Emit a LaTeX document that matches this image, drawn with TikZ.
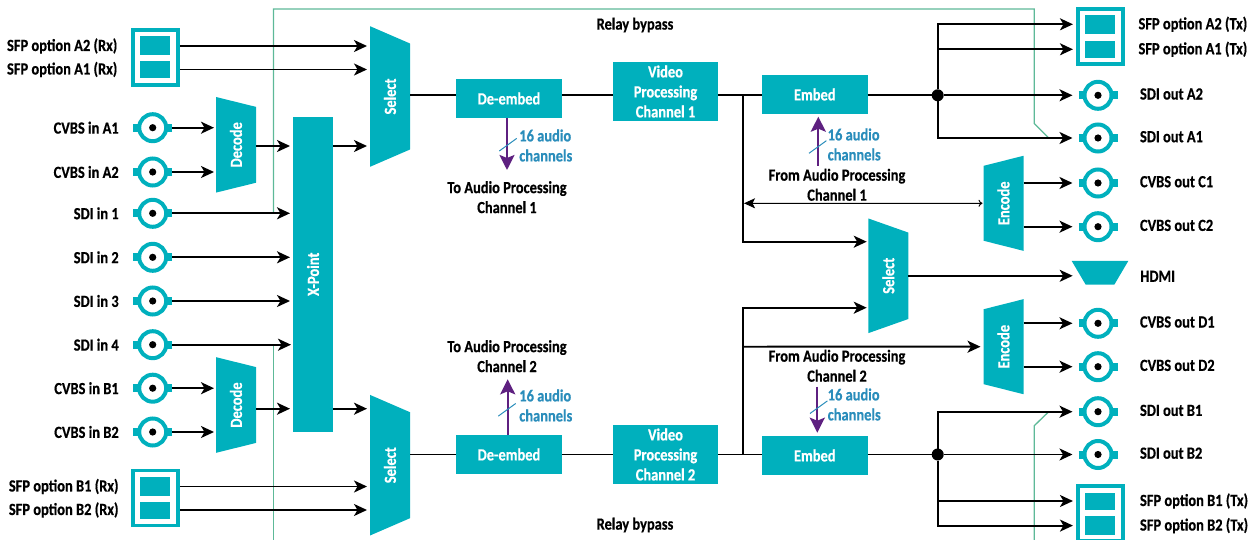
\documentclass[tikz,border=0pt]{standalone}
\usepackage{fontspec}
\setmainfont[FakeStretch=0.85,BoldFeatures={FakeBold=0.5}]{Carlito}
\usetikzlibrary{arrows.meta, positioning, shapes.geometric}
\definecolor{blockteal}{RGB}{0,176,189}
\definecolor{relaygreen}{RGB}{93,185,152}
\definecolor{audiopurple}{RGB}{94,32,128}
\definecolor{audioblue}{RGB}{42,141,187}
\tikzstyle{diagram}=[x=1pt, y=-1pt, >={Stealth[length=13pt,width=12pt,inset=3.5pt]}, font=\bfseries\fontsize{17}{20}\selectfont, inner sep=0pt, outer sep=0pt]
\tikzstyle{wire}=[line width=1.9pt]
\tikzstyle{signal}=[wire, ->, shorten >=3pt]
\tikzstyle{tobnc}=[wire, ->, shorten >=6pt]
\tikzstyle{relay}=[relaygreen, line width=1.3pt]
\tikzstyle{audio}=[audiopurple, line width=2.3pt, -{Stealth[length=15pt,width=15pt,inset=3pt]}]
\tikzstyle{tick}=[audioblue, line width=1pt]
\tikzstyle{block}=[fill=blockteal, text=white, align=center]
\tikzstyle{wedge}=[block, trapezium, trapezium stretches=true, trapezium left angle=64, trapezium right angle=64, minimum height=40pt, rotate=90]
\tikzstyle{narrowin}=[wedge]
\tikzstyle{narrowout}=[wedge, shape border rotate=180]
\tikzstyle{sfp}=[draw=blockteal, line width=3.7pt, fill=white, minimum width=45pt, minimum height=55pt, outer sep=1.85pt]
\tikzstyle{slot}=[fill=blockteal, minimum width=30pt]
\tikzstyle{bnc}=[circle, draw=blockteal, fill=white, line width=4pt, minimum size=27pt, outer sep=6pt,
  path picture={\fill[black] (path picture bounding box.center) circle (3.6pt);},
  append after command={(\tikzlastnode.west) edge[blockteal, line width=8pt, -] ([xshift=6pt]\tikzlastnode.west)
    (\tikzlastnode.east) edge[blockteal, line width=8pt, -] ([xshift=-6pt]\tikzlastnode.east)}]
\tikzstyle{dot}=[circle, fill=black, minimum size=12pt]
\tikzstyle{caption}=[align=center]
\tikzstyle{outcaption}=[align=center, yshift=1.3pt]
\tikzstyle{count}=[text=audioblue, align=left, anchor=west]

\begin{document}
\begin{tikzpicture}[diagram]
  \useasboundingbox (0,0) rectangle (1251,540);

  \coordinate (relayTL) at (273.5,9);
  \coordinate (relayTR) at (1034.3,9);
  \coordinate (relayAb) at (1034.3,123.5);
  \coordinate (relayAe) at (1048.7,138);
  \coordinate (relayBL) at (273.5,540);
  \coordinate (relayBR) at (1034.3,540);
  \coordinate (relayBb) at (1034.3,425.7);
  \coordinate (relayBe) at (1048.7,411.7);
  \coordinate (busA) at (600,95.3);
  \coordinate (busB) at (600,454.5);
  \coordinate (muxA) at (300,146);
  \coordinate (muxB) at (300,408.7);
  \coordinate (teeA) at (742.7,95.3);
  \coordinate (teeB) at (742.7,454.5);
  \coordinate (selInA) at (868.3,241.7);
  \coordinate (selInB) at (868.3,307.7);
  \coordinate (audioOutA) at (507,170);
  \coordinate (audioInA) at (818.3,166);
  \coordinate (audioOutB) at (507.7,379.3);
  \coordinate (audioInB) at (817.3,386.7);
  \coordinate (tickDeA) at (508,144.7);
  \coordinate (tickEmA) at (817.7,147);
  \coordinate (tickDeB) at (507,409.8);
  \coordinate (tickEmB) at (818.7,407.2);

  \draw[relay] (relayTL |- 0,213.3) -- (relayTL) -- (relayTR) -- (relayAb) -- (relayAe);
  \draw[relay] (relayBL |- 0,344.7) -- (relayBL);
  \draw[relay] (relayBR) -- (relayBb) -- (relayBe);

  \node[sfp]  (sfpArx)    at (155.6,57.5) {};
  \node[slot, minimum height=19pt] (sfpArxTop) at (155,46)   {};
  \node[slot, minimum height=17pt] (sfpArxBot) at (155,69.5) {};
  \node[sfp]  (sfpBrx)    at (155.6,498)  {};
  \node[slot, minimum height=19pt] (sfpBrxTop) at (155,486.5) {};
  \node[slot, minimum height=17pt] (sfpBrxBot) at (155,510)   {};
  \node[sfp]  (sfpAtx)    at (1100.8,36.2) {};
  \node[slot, minimum height=19pt] (sfpAtxTop) at (1100,24.3) {};
  \node[slot, minimum height=17pt] (sfpAtxBot) at (1100,49.3) {};
  \node[sfp]  (sfpBtx)    at (1100.8,513.5) {};
  \node[slot, minimum height=17pt] (sfpBtxTop) at (1100,501)   {};
  \node[slot, minimum height=19pt] (sfpBtxBot) at (1100,525.6) {};

  \node[bnc] (cvbsInA1) at (152.7,127.7) {};
  \node[bnc] (cvbsInA2) at (152.7,172)   {};
  \node[bnc] (sdiIn1)   at (152.7,213.3) {};
  \node[bnc] (sdiIn2)   at (152.7,257.3) {};
  \node[bnc] (sdiIn3)   at (152.7,301)   {};
  \node[bnc] (sdiIn4)   at (152.7,344.7) {};
  \node[bnc] (cvbsInB1) at (152.7,388.2) {};
  \node[bnc] (cvbsInB2) at (152.7,432)   {};
  \node[bnc] (sdiOutA2)  at (1098,95.3)  {};
  \node[bnc] (sdiOutA1)  at (1098,138)   {};
  \node[bnc] (cvbsOutC1) at (1098,183)   {};
  \node[bnc] (cvbsOutC2) at (1098,226.7) {};
  \node[bnc] (cvbsOutD1) at (1098,323.3) {};
  \node[bnc] (cvbsOutD2) at (1098,366.7) {};
  \node[bnc] (sdiOutB1)  at (1098,411.7) {};
  \node[bnc] (sdiOutB2)  at (1098,454.5) {};

  \node[caption, left=22.7pt of sfpArxTop] (lblArx2) {SFP option A2 (Rx)};
  \node[caption, left=22.7pt of sfpArxBot] (lblArx1) {SFP option A1 (Rx)};
  \node[caption, left=21.5pt of sfpBrxTop] (lblBrx1) {SFP option B1 (Rx)};
  \node[caption, left=21.5pt of sfpBrxBot] (lblBrx2) {SFP option B2 (Rx)};
  \node[caption, right=23.5pt of sfpAtxTop] (lblAtx2) {SFP option A2 (Tx)};
  \node[caption, right=23.5pt of sfpAtxBot] (lblAtx1) {SFP option A1 (Tx)};
  \node[caption, right=25pt of sfpBtxTop] (lblBtx1) {SFP option B1 (Tx)};
  \node[caption, right=25pt of sfpBtxBot] (lblBtx2) {SFP option B2 (Tx)};
  \node[caption, left=14.5pt of cvbsInA1] (lblInA1) {CVBS in A1};
  \node[caption, left=14.5pt of cvbsInA2] (lblInA2) {CVBS in A2};
  \node[caption, left=14.5pt of sdiIn1]   (lblSdi1) {SDI in 1};
  \node[caption, left=14.5pt of sdiIn2]   (lblSdi2) {SDI in 2};
  \node[caption, left=14.5pt of sdiIn3]   (lblSdi3) {SDI in 3};
  \node[caption, left=14.5pt of sdiIn4]   (lblSdi4) {SDI in 4};
  \node[caption, left=14.5pt of cvbsInB1] (lblInB1) {CVBS in B1};
  \node[caption, left=14.5pt of cvbsInB2] (lblInB2) {CVBS in B2};
  \node[outcaption, right=22.5pt of sdiOutA2]  (lblOutA2) {SDI out A2};
  \node[outcaption, right=22.5pt of sdiOutA1]  (lblOutA1) {SDI out A1};
  \node[outcaption, right=22.5pt of cvbsOutC1] (lblOutC1) {CVBS out C1};
  \node[outcaption, right=22.5pt of cvbsOutC2] (lblOutC2) {CVBS out C2};
  \node[outcaption, right=22.5pt of cvbsOutD1] (lblOutD1) {CVBS out D1};
  \node[outcaption, right=22.5pt of cvbsOutD2] (lblOutD2) {CVBS out D2};
  \node[outcaption, right=22.5pt of sdiOutB1]  (lblOutB1) {SDI out B1};
  \node[outcaption, right=22.5pt of sdiOutB2]  (lblOutB2) {SDI out B2};

  \node[narrowout, minimum width=96pt]  (decodeA) at (236,144.8) {Decode};
  \node[narrowout, minimum width=96pt]  (decodeB) at (236,405)   {Decode};
  \node[block, rotate=90, minimum width=314.7pt, minimum height=40pt] (xpoint) at (313,274.3) {X-Point};
  \node[narrowout, minimum width=141pt] (selA) at (390,96.5)  {Select};
  \node[narrowout, minimum width=141pt] (selB) at (390,465.2) {Select};
  \node[narrowout, minimum width=115pt] (selM) at (888.3,275.8) {Select};
  \node[narrowin,  minimum width=95.5pt] (encodeC) at (1003.5,203.3) {Encode};
  \node[narrowin,  minimum width=95.5pt] (encodeD) at (1003.5,346.7) {Encode};
  \node[block, minimum width=106pt, minimum height=39pt] (deembedA) at (509,98.5)  {De-embed};
  \node[block, minimum width=106pt, minimum height=39pt] (deembedB) at (509,454.5) {De-embed};
  \node[block, minimum width=105pt, minimum height=59pt] (videoA) at (665.5,91.5)  {Video\\Processing\\Channel 1};
  \node[block, minimum width=105pt, minimum height=59pt] (videoB) at (665.5,454.5) {Video\\Processing\\Channel 2};
  \node[block, minimum width=105.7pt, minimum height=39pt] (embedA) at (814.8,94.5)  {Embed};
  \node[block, minimum width=105.7pt, minimum height=39pt] (embedB) at (814.8,455.5) {Embed};
  \node[block, trapezium, trapezium stretches=true, trapezium left angle=64, trapezium right angle=64, shape border rotate=180, inner sep=1pt, minimum width=56.6pt, minimum height=23.7pt] (hdmi) at (1100,272.8) {};
  \node[caption, right=19pt of hdmi, yshift=-3.5pt] (lblHdmi) {HDMI};

  \node[dot] (joinA) at (937.7,95.3)  {};
  \node[dot] (joinB) at (937.7,454.5) {};

  \node[caption] (relayTop) at (635,25)  {Relay bypass};
  \node[caption] (relayBot) at (635,525) {Relay bypass};
  \node[caption] (toAudioA) at (507,197.2) {To Audio Processing\\Channel 1};
  \node[caption] (toAudioB) at (507,356.2) {To Audio Processing\\Channel 2};
  \node[caption] (fromAudioA) at (837,184.8) {From Audio Processing\\Channel 1};
  \node[caption] (fromAudioB) at (837,365.8) {From Audio Processing\\Channel 2};
  \node[count] (countDeA) at (519.3,145.5) {16 audio\\channels};
  \node[count] (countEmA) at (827.7,144.5) {16 audio\\channels};
  \node[count] (countDeB) at (519.3,405.5) {16 audio\\channels};
  \node[count] (countEmB) at (827.7,404.5) {16 audio\\channels};

  \path[signal]
    (sfpArxTop -| sfpArx.east) edge (sfpArxTop -| selA.north)
    (sfpArxBot -| sfpArx.east) edge (sfpArxBot -| selA.north)
    (sfpBrxTop -| sfpBrx.east) edge (sfpBrxTop -| selB.north)
    (sfpBrxBot -| sfpBrx.east) edge (sfpBrxBot -| selB.north)
    (cvbsInA1) edge [shorten >=2pt] (cvbsInA1 -| decodeA.north)
    (cvbsInA2) edge [shorten >=2pt] (cvbsInA2 -| decodeA.north)
    (cvbsInB1) edge [shorten >=2pt] (cvbsInB1 -| decodeB.north)
    (cvbsInB2) edge [shorten >=2pt] (cvbsInB2 -| decodeB.north)
    (sdiIn1) edge (sdiIn1 -| xpoint.north)
    (sdiIn2) edge (sdiIn2 -| xpoint.north)
    (sdiIn3) edge (sdiIn3 -| xpoint.north)
    (sdiIn4) edge [shorten >=2pt] (sdiIn4 -| xpoint.north)
    (decodeA.south |- muxA) edge (xpoint.north |- muxA)
    (decodeB.south |- muxB) edge (xpoint.north |- muxB)
    (xpoint.south |- muxA) edge (selA.north |- muxA)
    (xpoint.south |- muxB) edge (selB.north |- muxB)
    (teeA) edge [to path={|- (\tikztotarget)}, shorten >=1.6pt] (selInA)
    (teeB) edge [to path={|- (\tikztotarget)}, shorten >=1.6pt] (selInB)
    (teeB |- encodeD) edge (encodeD.north);

  \path[wire]
    (selA.south |- busA) edge (deembedA.west |- busA)
    (deembedA.east |- busA) edge (videoA.west |- busA)
    (videoA.east |- busA) edge (embedA.west |- busA)
    (embedA.east |- busA) edge (joinA)
    (selB.south |- busB) edge (deembedB.west |- busB)
    (deembedB.east |- busB) edge (videoB.west |- busB)
    (videoB.east |- busB) edge (embedB.west |- busB)
    (embedB.east |- busB) edge (joinB);

  \path[tobnc]
    (joinA) edge (sdiOutA2)
            edge [to path={|- (\tikztotarget)}] (sdiOutA1)
            edge [to path={|- (\tikztotarget)}, shorten >=3.5pt] (sfpAtxTop -| sfpAtx.west)
            edge [to path={|- (\tikztotarget)}, shorten >=3.5pt] (sfpAtxBot -| sfpAtx.west)
    (joinB) edge (sdiOutB2)
            edge [to path={|- (\tikztotarget)}] (sdiOutB1)
            edge [to path={|- (\tikztotarget)}, shorten >=3.5pt] (sfpBtxTop -| sfpBtx.west)
            edge [to path={|- (\tikztotarget)}, shorten >=3.5pt] (sfpBtxBot -| sfpBtx.west)
    (encodeC.south |- cvbsOutC1) edge (cvbsOutC1)
    (encodeC.south |- cvbsOutC2) edge (cvbsOutC2)
    (encodeD.south |- cvbsOutD1) edge (cvbsOutD1)
    (encodeD.south |- cvbsOutD2) edge (cvbsOutD2)
    (selM.south) edge (selM.south -| hdmi.west);

  \draw[line width=1pt, {Stealth[length=11pt,width=10pt,inset=2.5pt]}-{To[length=4pt,width=7pt]}, shorten <=1.3pt, shorten >=1pt] (teeA |- encodeC) -- (encodeC.north);

  \path[audio]
    (deembedA.south -| audioOutA) edge (audioOutA)
    (audioInA) edge [shorten >=2.7pt] (embedA.south -| audioInA)
    (deembedB.north -| audioOutB) edge (audioOutB)
    (audioInB) edge [shorten >=3.3pt] (embedB.north -| audioInB);

  \draw[tick] ([xshift=-8.7pt,yshift=-6.3pt]tickDeA) -- ([xshift=8.7pt,yshift=6.3pt]tickDeA);
  \draw[tick] ([xshift=-8.7pt,yshift=-6.3pt]tickEmA) -- ([xshift=8.7pt,yshift=6.3pt]tickEmA);
  \draw[tick] ([xshift=-8.7pt,yshift=-6.3pt]tickDeB) -- ([xshift=8.7pt,yshift=6.3pt]tickDeB);
  \draw[tick] ([xshift=-8.7pt,yshift=-6.3pt]tickEmB) -- ([xshift=8.7pt,yshift=6.3pt]tickEmB);
\end{tikzpicture}
\end{document}
